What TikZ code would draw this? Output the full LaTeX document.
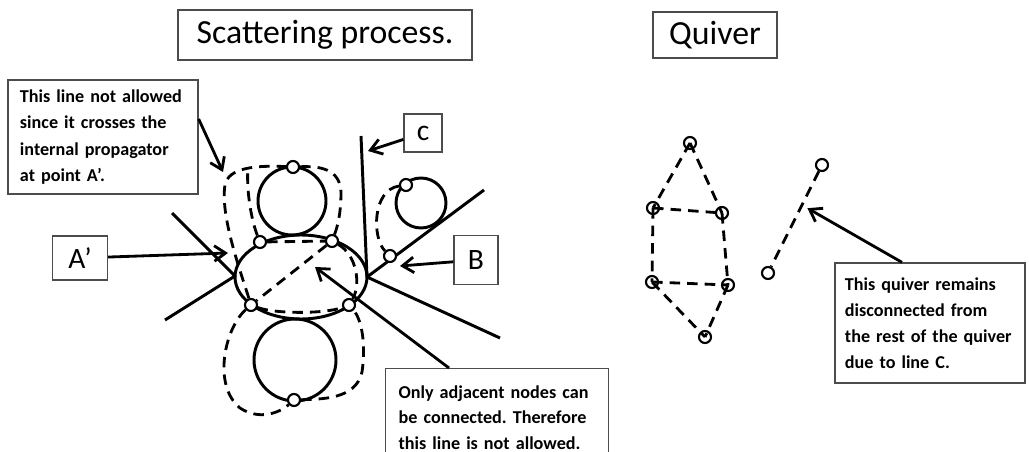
\documentclass[tikz,border=0pt]{standalone}
\usepackage{fontspec}
\setmainfont{Carlito}
\usepackage{tikz}
\usetikzlibrary{positioning,arrows.meta,calc}
\frenchspacing

\begin{document}
\begin{tikzpicture}[
    x=0.025cm, y=-0.025cm,
    leg/.style={line width=2.1pt, line join=round},
    link/.style={line width=2pt, dash pattern=on 7.5pt off 5pt},
    vtx/.style={circle, draw, line width=1.5pt, minimum size=0.3cm, inner sep=0pt, fill=white},
    qvtx/.style={circle, draw, line width=1.5pt, minimum size=0.3cm, inner sep=0pt},
    pointer/.style={line width=2pt, -{Straight Barb[length=8pt,width=11pt]}},
    titlebox/.style={draw=black!70, line width=0.9pt, font=\fontsize{24}{28}\selectfont},
    labelbox/.style={draw=black!70, line width=0.9pt, font=\fontsize{21}{25}\selectfont},
    notebox/.style={draw=black!70, line width=0.9pt, align=left, inner xsep=0.3cm,
        font=\fontsize{12.9}{18.6}\selectfont\bfseries},
]
\useasboundingbox (0,0) rectangle (1029,452);
\clip (0,0) rectangle (1029,452);

% Headings
\node[titlebox, minimum width=7.35cm, minimum height=1.25cm] (title) at (325,35) {Scattering process.};
\node[titlebox, minimum width=3.1cm, minimum height=1.15cm] (qtitle) at (715,35) {Quiver};

% Propagators
\draw[leg] (301,277) ellipse [x radius=66, y radius=42];
\draw[leg] (292,201) circle [radius=34];
\draw[leg] (295,360) circle [radius=41];
\draw[leg] (421,203) circle [radius=25];

% External lines
\coordinate (Lt) at (235,276);
\coordinate (Rt) at (367,277);
\coordinate (la) at (172,213);
\coordinate (lb) at (165,320);
\coordinate (lc) at (361,136);
\coordinate (lB) at (484,190);
\coordinate (ld) at (500,338);
\draw[leg] (la) -- (Lt) -- (lb);
\draw[leg] (lc) -- (Rt) -- (lB);
\draw[leg] (Rt) -- (ld);

% Nodes on the propagators
\node[vtx] (mTop) at (293,167) {};
\node[vtx] (mLT) at (260,242) {};
\node[vtx] (mRT) at (332,241) {};
\node[vtx] (mLB) at (251,305) {};
\node[vtx] (mRB) at (349,305) {};
\node[vtx] (mBot) at (294,400) {};
\node[vtx] (mSm) at (406,185) {};
\node[vtx] (mB) at (390,256) {};

% Dashed lines between the nodes
\coordinate (jn) at (248,167);
\draw[link] (mLB) .. controls (240,270) and (220,215) .. (225,185) .. controls (228,168) and (255,165) .. (mTop);
\draw[link] (mTop) .. controls (318,166) and (340,168) .. (341,192) .. controls (341,215) and (337,228) .. (mRT);
\draw[link] (mLT) .. controls (252,222) and (246,192) .. (jn);
\draw[link] (mLT) -- (mRT);
\draw[link] (mRT) .. controls (357,255) and (361,285) .. (mRB);
\draw[link] (mLB) .. controls (275,314) and (325,314) .. (mRB);
\draw[link] (mRT) -- (mLB);
\draw[link] (mLB) .. controls (225,328) and (212,385) .. (240,408) .. controls (258,420) and (278,414) .. (mBot);
\draw[link] (mBot) .. controls (320,399) and (356,400) .. (362,372) .. controls (366,345) and (362,320) .. (mRB);
\draw[link] (mSm) .. controls (372,190) and (372,238) .. (mB);

% Labels A', B, c
\node[labelbox, minimum width=1.375cm, minimum height=1.1cm] (Alab) at (80,258) {A’};
\node[labelbox, minimum width=1.1cm, minimum height=1.225cm] (Blab) at (476,260) {B};
\node[labelbox, minimum width=0.95cm, minimum height=0.95cm] (Clab) at (423,133) {c};
\coordinate (ptA) at (228,253);
\coordinate (ptB) at (400,266);
\coordinate (ptC) at (368,151);
\draw[pointer] (Alab) -- (ptA);
\draw[pointer] (Blab) -- (ptB);
\draw[pointer] (Clab) -- (ptC);

% Notes
\node[notebox, text width=4.15cm, minimum height=2.85cm] (note1) at (103,137)
    {This line not allowed\\ since it crosses the\\ internal propagator\\ at point A’.};
\node[notebox, text width=4.925cm, inner xsep=0.325cm, inner ysep=12.5pt, anchor=north west,
    font=\fontsize{12.9}{17.8}\selectfont\bfseries] (note2) at (385,368)
    {Only adjacent nodes can\\ be connected. Therefore\\ this line is not allowed.};
\coordinate (ptN) at (223,172);
\coordinate (ptAdj) at (315,267);
\draw[pointer] ([yshift=0.45cm]note1.east) -- (ptN);
\draw[pointer] ([xshift=1.6cm]note2.north west) -- (ptAdj);

% Quiver
\foreach \n/\x/\y in {q1/690/143, q2/653/208, q3/722/213, q4/652/282, q5/728/285, q6/705/337}
    \node[qvtx] (\n) at (\x,\y) {};
\node[qvtx] (qa) at (822,165) {};
\node[qvtx] (qb) at (768,273) {};

\foreach \a/\b in {q1/q2, q1/q3, q2/q3, q2/q4, q3/q5, q4/q5, q4/q6, q5/q6}
    \draw[link] (\a.center) -- (\b.center);
\draw[link] (qa) -- (qb);

\node[notebox, text width=4.25cm, inner xsep=0.25cm, minimum height=3cm] (note3) at (930,323)
    {This quiver remains\\ disconnected from\\ the rest of the quiver\\ due to line C.};
\coordinate (ptQ) at ($(qa)!0.4!(qb)+(7,0)$);
\draw[pointer] ([xshift=-0.7cm]note3.north) -- (ptQ);

\end{tikzpicture}
\end{document}
